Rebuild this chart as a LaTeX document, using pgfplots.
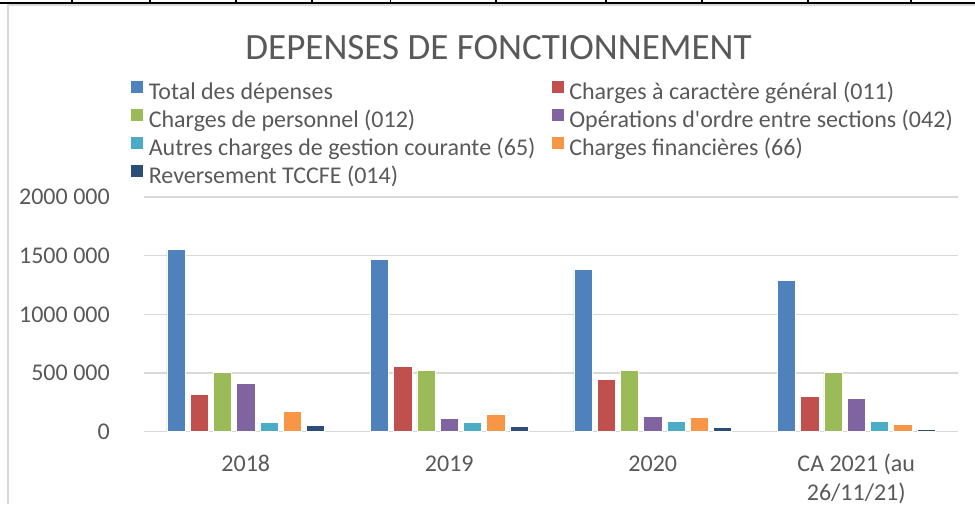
\documentclass[border=0pt]{standalone}
\usepackage{pgfplots}
\usepackage{pgfplotstable}
\usepackage{fontspec}
\setmainfont{Carlito}
\pgfplotsset{compat=1.18}

\definecolor{cBlue}{HTML}{4F81BD}
\definecolor{cRed}{HTML}{C0504D}
\definecolor{cGreen}{HTML}{9BBB59}
\definecolor{cPurple}{HTML}{8064A2}
\definecolor{cAqua}{HTML}{4BACC6}
\definecolor{cOrange}{HTML}{F79646}
\definecolor{cNavy}{HTML}{2C4D75}
\definecolor{txt}{HTML}{595959}
\definecolor{gridgray}{HTML}{D9D9D9}

% one row per year, one column per expense line
\pgfplotstableread{
x total c011 c012 c042 c65 c66 c014
0 1554000 321000 503000 412000 82000 173000 51000
1 1469000 557000 520000 111000 82000 151000 43000
2 1381000 449000 520000 134000 88000 122000 40000
3 1293000 304000 509000 287000 88000 65000 20000
}\depenses

\newcommand{\bodyfont}{\fontsize{18}{21.75}\selectfont}

\begin{document}
\begin{tikzpicture}
\path[use as bounding box] (0,0) rectangle (731.25pt,378pt);
% table border and chart frame
\draw[black, line width=1.1pt] (0,375.7pt) -- (731.25pt,375.7pt);
\foreach \t in {54,112.5,177,234,293,372,454.5,526.5,606,683.25}
  \draw[black, line width=0.8pt] (\t pt,378pt) -- (\t pt,375.7pt);
\draw[gridgray, line width=1.5pt] (6pt,0) -- (6pt,374pt) -- (731.25pt,374pt);

\node[anchor=base, font=\fontsize{27.8}{33}\selectfont, text=txt]
  at (373.9pt,333.4pt) {DEPENSES DE FONCTIONNEMENT};

\begin{axis}[
    at={(108pt,54.2pt)}, anchor=south west,
    scale only axis,
    width=610.5pt, height=176pt,
    ybar=3.75pt,
    bar width=13.7pt,
    xmin=-0.5, xmax=3.5,
    ymin=0, ymax=2000000,
    scaled y ticks=false,
    xtick={0,1,2,3},
    xticklabels={2018\strut,2019\strut,2020\strut,{CA 2021 (au\strut\\26/11/21)}},
    ytick={0,500000,1000000,1500000,2000000},
    yticklabels={0,500 000,1000 000,1500 000,2000 000},
    major tick length=0pt,
    axis line style={draw=none},
    xmajorgrids=false,
    ymajorgrids=true,
    major grid style={color=gridgray, line width=1.1pt},
    tick label style={font=\bodyfont, text=txt, inner sep=0pt},
    yticklabel style={anchor=east, xshift=-25.5pt},
    xticklabel style={anchor=north, align=center, yshift=-14.3pt},
    every axis plot/.append style={draw=white, line width=0.4pt},
    legend columns=2,
    legend cell align=left,
    legend style={
        at={(-0.0172,1.5006)}, anchor=north west,
        draw=none, fill=none, inner sep=0pt,
        font=\bodyfont, text=txt,
        column sep=0pt, row sep=2.6pt,
        nodes={inner sep=0pt, text height=12pt, text depth=4pt},
        /tikz/column 1/.style={column sep=3.75pt},
        /tikz/column 2/.style={column sep=11.5pt},
        /tikz/column 3/.style={column sep=3.75pt},
    },
    legend image code/.code={\fill[#1] (0pt,0.6pt) rectangle (9.75pt,10.35pt);},
]
\addplot[fill=cBlue]   table[x=x, y=total] {\depenses};
\addplot[fill=cRed]    table[x=x, y=c011]  {\depenses};
\addplot[fill=cGreen]  table[x=x, y=c012]  {\depenses};
\addplot[fill=cPurple] table[x=x, y=c042]  {\depenses};
\addplot[fill=cAqua]   table[x=x, y=c65]   {\depenses};
\addplot[fill=cOrange] table[x=x, y=c66]   {\depenses};
\addplot[fill=cNavy]   table[x=x, y=c014]  {\depenses};
\legend{Total des dépenses, Charges à caractère général (011),
        Charges de personnel (012), Opérations d\textquotesingle ordre entre sections (042),
        Autres charges de gestion courante (65), Charges financières (66),
        Reversement TCCFE (014)}
\end{axis}
\end{tikzpicture}
\end{document}
